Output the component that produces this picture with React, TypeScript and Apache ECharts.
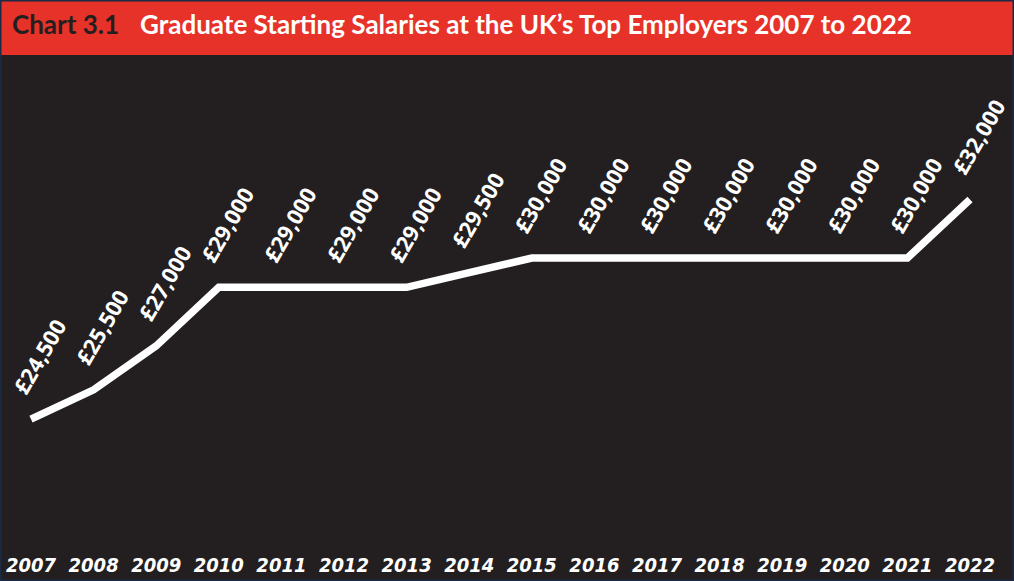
import React, { useEffect, useRef } from "react";
import * as echarts from "echarts";

const years = ["2007","2008","2009","2010","2011","2012","2013","2014","2015","2016","2017","2018","2019","2020","2021","2022"];
const salaries = [24500,25500,27000,29000,29000,29000,29000,29500,30000,30000,30000,30000,30000,30000,30000,32000];
const chartNumber = "Chart 3.1";
const chartTitle = "Graduate Starting Salaries at the UK\u2019s Top Employers 2007 to 2022";

const fmt = (v: number) => "\u00a3" + v.toLocaleString("en-GB");

export default function App() {
  const ref = useRef<HTMLDivElement>(null);
  useEffect(() => {
    if (!ref.current) return;
    const chart = echarts.init(ref.current, null, { renderer: "svg" });
    chart.setOption({
      animation: false,
      backgroundColor: "#231f20",
      grid: { left: 31, right: 44, top: 111.5, bottom: 30 },
      xAxis: {
        type: "category",
        data: years,
        boundaryGap: false,
        axisLine: { show: false },
        axisTick: { show: false },
        splitLine: { show: false },
        axisLabel: {
          color: "#ffffff",
          fontFamily: "DejaVu Sans Condensed, DejaVu Sans, sans-serif",
          fontWeight: "bold",
          fontStyle: "italic",
          fontSize: 20,
          margin: 4,
          interval: 0,
        },
      },
      yAxis: {
        type: "value",
        min: 20000,
        max: 35000,
        show: false,
        splitLine: { show: false },
      },
      graphic: [
        { type: "rect", shape: { x: 0, y: 0, width: 1014, height: 55 }, style: { fill: "#e63228" }, z: 10 },
        {
          type: "text", x: 12, y: 24, z: 11,
          style: { text: chartNumber, fill: "#231f20", font: "bold 26px Lato, sans-serif", verticalAlign: "middle" },
        },
        {
          type: "text", x: 140, y: 24, z: 11,
          style: { text: chartTitle, fill: "#ffffff", font: "bold 26px Lato, sans-serif", verticalAlign: "middle" },
        },
        {
          type: "rect", shape: { x: 0.75, y: 0.75, width: 1012.5, height: 579.5 },
          style: { fill: "none", stroke: "#1b2a45", lineWidth: 1.5 }, z: 12,
        },
      ],
      series: [
        {
          type: "line",
          data: salaries,
          symbol: "circle",
          symbolSize: 0,
          lineStyle: { color: "#ffffff", width: 7.5, cap: "butt", join: "miter" },
          itemStyle: { color: "#ffffff" },
          label: {
            show: true,
            formatter: (p: any) => fmt(p.value),
            position: "inside",
            align: "center",
            verticalAlign: "middle",
            rotate: 60,
            offset: [58.5, -24.5],
            color: "#ffffff",
            fontFamily: "Open Sans, sans-serif",
            fontWeight: "bold",
            fontSize: 22,
          },
        },
      ],
    });
    return () => chart.dispose();
  }, []);
  return <div ref={ref} style={{ width: 1014, height: 581, position: "absolute", left: 0, top: 0 }} />;
}
